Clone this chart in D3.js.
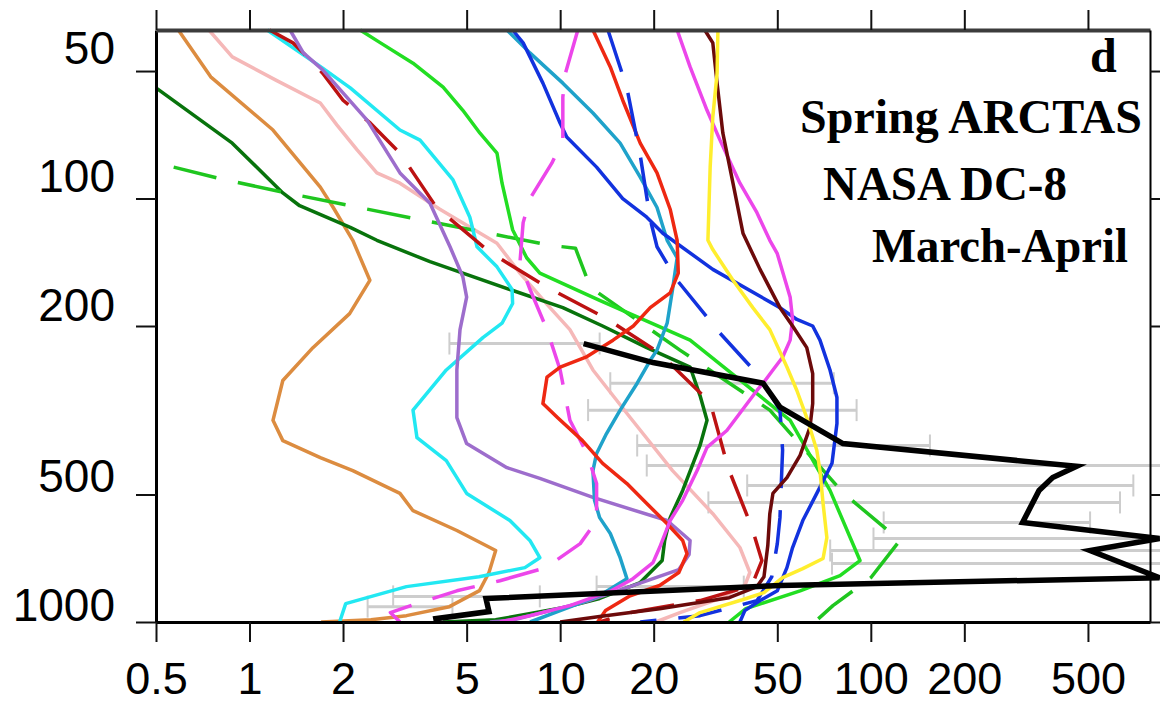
<!DOCTYPE html>
<html>
<head>
<meta charset="utf-8">
<script src="https://cdn.jsdelivr.net/npm/d3@7"></script>
<style>
  html, body { margin: 0; padding: 0; background: #fff; }
  svg { display: block; }
</style>
</head>
<body>
<svg id="chart" width="1160" height="704"></svg>
<script>
// Axis tick values
const valueTicks = [0.5, 1, 2, 5, 10, 20, 50, 100, 200, 500];
const pressureTicks = [50, 100, 200, 500, 1000];

// Vertical profiles: [mixing ratio, pressure (hPa)]
const orange = [[0.59,40],[0.75,51.6],[1.19,68.9],[1.69,94],[1.86,105],[2.15,125.5],[2.44,156],[2.1,187],[1.6,225],[1.28,269],[1.19,334],[1.28,373],[1.69,409],[2.15,439],[3.05,497],[3.36,546],[4.65,608],[6.2,678],[5.9,764],[5.5,843],[4.4,920],[3.2,966],[2.46,988],[1.7,1000]];
const pink = [[0.74,40],[0.88,46.3],[1.22,52.6],[1.69,59.5],[1.91,67],[2.22,76.8],[2.57,87],[3.05,92],[4.1,106],[6.26,127.5],[7.42,150],[9.27,181],[10.75,204],[12.75,254],[16.8,329],[23,439],[31,555],[37.9,667],[40.8,764],[39.3,820],[32.7,880],[24.3,950],[20.3,1000]];
const darkGreen = [[0.5,54.8],[0.88,74],[1.28,97],[1.45,104],[2.11,117],[2.57,125.5],[3.81,141],[6.89,164],[10.2,181],[13.7,200],[19,225],[26.2,250],[28.2,292],[29.7,334],[28.2,383],[24.8,489],[22.6,567],[21.7,642],[21.3,716],[18.1,807],[13.4,880],[10.6,920],[6.2,988],[4.2,1000]];
const greenDashed = [[0.57,84.3],[0.79,89.5],[1.28,96.6],[2.11,104],[3.29,111],[5.64,120],[9.27,129],[11.2,131],[12.5,162],[24.3,228],[47.3,316],[81.3,495],[124,642],[100,786],[75.5,915],[66,1000]];
const cyan = [[1.14,40],[1.72,49.2],[2.11,54.8],[3.05,68.9],[3.54,72.8],[4.52,90.4],[5.12,110.7],[5.4,130],[6.26,145],[7.0,164],[7.03,177],[6.5,197],[5.64,213],[4.3,254],[3.36,316],[3.46,367],[4.3,416],[5.0,497],[6.89,576],[7.99,642],[8.6,705],[7.7,744],[5.48,782],[3.2,825],[2.04,905],[1.95,1000]];
const darkRedDashed = [[1.16,40],[1.38,42.9],[1.49,45.3],[1.72,50.6],[2.0,58.6],[2.45,66.4],[3.05,78.1],[4.0,105],[5.94,134],[9.07,162],[14.1,192],[20.9,232],[30.4,303],[34.7,432],[41.4,598],[44.6,716],[41.4,820],[28.2,890],[16.8,950],[13.4,1000]];
const purple = [[1.35,40],[1.49,45.3],[1.72,49.7],[2.39,65.3],[3.05,87],[3.81,102.6],[4.42,130],[4.86,153],[5.0,171],[4.76,204],[4.65,254],[4.65,329],[5.0,379],[6.74,432],[8.6,458],[12.75,508],[22.1,576],[26.2,642],[26,693],[24.1,752],[17.9,812],[12.1,895],[7.1,988],[5.94,1000]];
const brightGreen = [[2.27,40],[2.64,42.9],[3.36,47.9],[4.2,54.6],[4.86,61.9],[5.52,70.1],[6.26,78.1],[6.5,92],[7.03,118.5],[7.8,138],[8.6,150],[13.4,174],[26.2,216],[43,289],[55,334],[73.9,489],[92.3,716],[79.6,777],[59.2,844],[39.6,930],[35,1000]];
const teal = [[6.74,40],[7.99,45.3],[10.2,53.4],[12.75,62.8],[15.6,74],[18.1,89],[20.5,105],[22.1,125.5],[23.8,138],[23,164],[22.1,197],[20.5,228],[19.5,241],[17.7,273],[15.6,316],[14.1,359],[13.1,400],[12.75,439],[12.9,516],[13.4,567],[14.5,618],[15.6,705],[16.4,790],[13.4,866],[10,940],[8,1000]];
const blue = [[7.03,40],[7.6,42.9],[8.8,53.4],[10,66.4],[10.5,71.6],[13.1,84.3],[15.9,100],[19,110.7],[21.4,120.8],[31,147],[51,181],[57.8,193],[65,200],[68.6,216],[73.9,254],[77.8,295],[77.8,340],[75,422],[67,497],[60.4,576],[56,667],[53.7,744],[50,844],[44,890],[39.3,940],[37.9,1000]];
const magentaDashed = [[11.4,40],[10.4,50.6],[10.2,57.6],[10.2,72.8],[9.4,82.5],[8.0,100],[7.6,114],[7.42,142],[8.0,164],[9.07,204],[10,254],[10.75,334],[12.2,400],[13.1,471],[13.1,576],[11.6,653],[9.0,744],[6.4,799],[4.65,844],[3.38,910],[2.84,950],[3.05,1000]];
const red = [[12.75,40],[14.5,48.9],[15.9,58.6],[18.1,74],[20.5,87],[22.6,106],[23.8,125.5],[24,150],[22.6,167],[19.5,181],[17.2,200],[14.8,216],[12.1,237],[10,250],[9.07,264],[8.8,305],[9.8,329],[11.8,373],[13.7,422],[16.4,471],[19,525],[22.1,586],[24.8,642],[25.6,690],[24.1,764],[20.9,820],[16.8,867],[14,940],[13.2,1000]];
const blueDashed = [[14.25,40],[16.4,54.8],[18.1,79],[19.5,112],[20.5,130],[23.8,156],[32.7,208],[44,264],[51,316],[52,393],[51,567],[50,653],[48,782],[43,890],[28.2,966],[18.1,1000]];
const magenta = [[23.8,40],[26.2,48.9],[29.7,61.9],[32.7,72.8],[37.9,92],[43,108],[47.3,125.5],[50,135],[55,171],[56,193],[55,216],[52,237],[48.4,254],[45,273],[43,284],[34.4,353],[29.7,387],[27.6,439],[24.8,516],[22.6,576],[20.9,667],[19.9,724],[17,794],[14.6,844],[10.75,915],[8.0,966],[6.4,1000]];
const maroon = [[29.2,40],[31,42.9],[32,53.4],[33.4,70.1],[36,92],[38.8,121],[44,147],[51,181],[56,200],[62.2,225],[65,259],[65,305],[63.7,347],[59.2,404],[53.7,456],[48.4,497],[47.3,555],[46.6,660],[45.3,782],[43,825],[35,876],[20.9,930],[13.4,971],[10,1000]];
const yellow = [[32.2,40],[32,50.6],[31,64.2],[30.4,84.3],[29.9,125.5],[31,132],[36,156],[41.7,181],[47.3,204],[53.7,250],[57.8,284],[62.2,329],[67,393],[68.6,439],[70.2,525],[72.2,632],[70.2,708],[60.4,748],[52,786],[45.3,852],[38.6,886],[28.2,950],[25,1000]];

// Observed median profile and its spread: [pressure, low, high]
const observed = [[11.9,220],[19.9,244],[45,273],[51,311],[81.3,379],[460,429],[385,456],[348,489],[308,582],[850,635],[508,678],[850,786],[51,820],[5.77,880],[5.9,945],[3.98,982],[4.0,1000]];
const observedRange = [[220,4.4,13.4],[273,14.5,76],[316,12.3,90],[383,17.7,155],[427,19,900],[476,40,700],[522,30,634],[582,110,508],[635,102,900],[678,74,900],[728,75,900],[825,13.1,39],[870,2.9,8.6],[920,2.4,4.5]];

// Panel annotations
const panelLetter = "d";
const panelLines = ["Spring ARCTAS", "NASA DC-8", "March-April"];

const series = [
  { data: orange,        color: "#DC8C40", dash: null },
  { data: pink,          color: "#F5B8B8", dash: null },
  { data: darkGreen,     color: "#08730C", dash: null },
  { data: greenDashed,   color: "#1FC61F", dash: "44,22" },
  { data: cyan,          color: "#22E8F2", dash: null },
  { data: darkRedDashed, color: "#BC1212", dash: "44,22" },
  { data: purple,        color: "#9D6DCC", dash: null },
  { data: brightGreen,   color: "#22DE22", dash: null },
  { data: teal,          color: "#1FA2CA", dash: null },
  { data: blue,          color: "#1232DE", dash: null },
  { data: magentaDashed, color: "#EC46EA", dash: "44,22" },
  { data: red,           color: "#EE2812", dash: null },
  { data: blueDashed,    color: "#1232DE", dash: "44,22" },
  { data: magenta,       color: "#EC46EA", dash: null },
  { data: maroon,        color: "#6C0A0A", dash: null },
  { data: yellow,        color: "#FFEE2E", dash: null }
];

const svg = d3.select("#chart");
const x = d3.scaleLog().domain([0.5, 792]).range([156, 1150]);
const y = d3.scaleLog().domain([40, 1000]).range([30, 622]);

const sansFont = "'Liberation Sans', Arial, Helvetica, sans-serif";
const serifFont = "'Liberation Serif', 'Times New Roman', serif";

// Spread of the observations (grey bars with end caps)
const bars = svg.append("g").attr("stroke", "#CDCDCD").attr("stroke-width", 3).attr("fill", "none");
observedRange.forEach(([p, lo, hi]) => {
  const yy = y(p);
  bars.append("line").attr("x1", x(lo)).attr("x2", x(hi)).attr("y1", yy).attr("y2", yy);
  bars.append("line").attr("x1", x(lo)).attr("x2", x(lo)).attr("y1", yy - 11).attr("y2", yy + 11).attr("stroke-width", 2);
  bars.append("line").attr("x1", x(hi)).attr("x2", x(hi)).attr("y1", yy - 11).attr("y2", yy + 11).attr("stroke-width", 2);
});

// Model profiles
const line = d3.line().x(d => x(d[0])).y(d => y(d[1]));
const profiles = svg.append("g").attr("fill", "none").attr("stroke-linejoin", "round");
series.forEach(s => {
  profiles.append("path")
    .attr("d", line(s.data))
    .attr("stroke", s.color)
    .attr("stroke-width", 3.5)
    .attr("stroke-dasharray", s.dash);
});

// Observed median
svg.append("path")
  .attr("d", line(observed))
  .attr("fill", "none")
  .attr("stroke", "#000")
  .attr("stroke-width", 5.5)
  .attr("stroke-linejoin", "miter");

// Axes
const gLeft = svg.append("g").attr("transform", "translate(156,0)")
  .call(d3.axisLeft(y).tickValues(pressureTicks).tickSize(20).tickSizeOuter(0).tickPadding(21).tickFormat(d3.format("d")));
const gBottom = svg.append("g").attr("transform", "translate(0,622)")
  .call(d3.axisBottom(x).tickValues(valueTicks).tickSize(20).tickSizeOuter(0).tickFormat(d => String(d)));
const gTop = svg.append("g").attr("transform", "translate(0,30)")
  .call(d3.axisTop(x).tickValues(valueTicks).tickSize(20).tickSizeOuter(0).tickFormat(""));
const gRight = svg.append("g").attr("transform", "translate(1150,0)")
  .call(d3.axisRight(y).tickValues(pressureTicks).tickSize(10).tickSizeOuter(0).tickFormat(""));

[gLeft, gBottom, gTop, gRight].forEach(g => {
  g.selectAll(".tick line").attr("stroke", "#111").attr("stroke-width", 2);
});
gLeft.select(".domain").attr("stroke", "#000").attr("stroke-width", 3);
gBottom.select(".domain").attr("stroke", "#000").attr("stroke-width", 3);
gTop.select(".domain").attr("stroke", "#3C3C3C").attr("stroke-width", 4);
gRight.select(".domain").attr("stroke", "#000").attr("stroke-width", 2);

// Pressure labels sit a little above their ticks, more so near the top
gLeft.selectAll(".tick text")
  .attr("dy", d => -8 + 6 * Math.log10(d / 50) / Math.log10(20))
  .attr("font-family", sansFont).attr("font-size", 46).attr("fill", "#000");
gBottom.selectAll(".tick text")
  .attr("y", 72).attr("dy", 0)
  .attr("font-family", sansFont).attr("font-size", 45).attr("fill", "#000");

// Panel labels
const notes = svg.append("g")
  .attr("font-family", serifFont).attr("font-weight", "bold").attr("font-size", 48).attr("fill", "#000");
notes.append("text").attr("x", 1090).attr("y", 72).text(panelLetter);
notes.append("text").attr("x", 800).attr("y", 133)
  .attr("textLength", 342).attr("lengthAdjust", "spacingAndGlyphs").text(panelLines[0]);
notes.append("text").attr("x", 823).attr("y", 200)
  .attr("textLength", 244).attr("lengthAdjust", "spacingAndGlyphs").text(panelLines[1]);
notes.append("text").attr("x", 872).attr("y", 262)
  .attr("textLength", 256).attr("lengthAdjust", "spacingAndGlyphs").text(panelLines[2]);
</script>
</body>
</html>
